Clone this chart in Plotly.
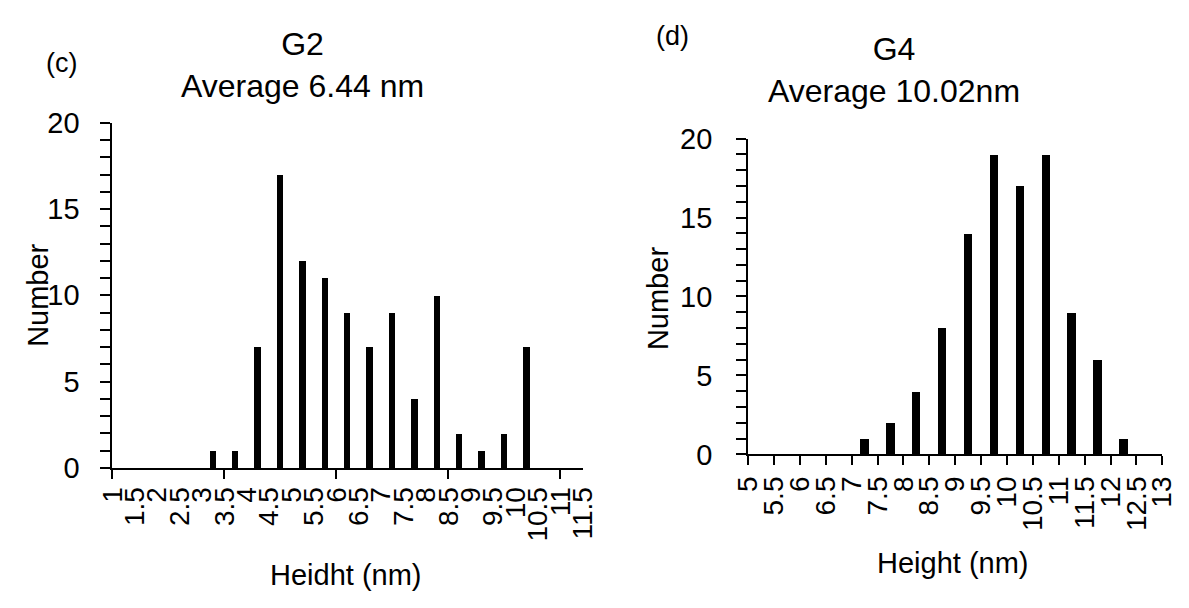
import numpy as np
import plotly.graph_objects as go

# ---- data ----
g2_edges = ["1", "1.5", "2", "2.5", "3", "3.5", "4", "4.5", "5", "5.5", "6",
            "6.5", "7", "7.5", "8", "8.5", "9", "9.5", "10", "10.5", "11", "11.5"]
g2_counts = [0, 0, 0, 0, 1, 1, 7, 17, 12, 11, 9, 7, 9, 4, 10, 2, 1, 2, 7, 0, 0]

g4_edges = ["5", "5.5", "6", "6.5", "7", "7.5", "8", "8.5", "9", "9.5", "10",
            "10.5", "11", "11.5", "12", "12.5", "13"]
g4_counts = [0, 0, 0, 0, 1, 2, 4, 8, 14, 19, 17, 19, 9, 6, 1, 0]

y_ticks = [0, 5, 10, 15, 20]
g2_major_ticks = [0, 5, 10, 15, 20]

FONT = "Arial, Liberation Sans, sans-serif"
W, H = 1189, 608

g2_x = np.arange(len(g2_counts)) + 0.5
g4_x = np.arange(len(g4_counts)) + 0.5

fig = go.Figure()
fig.add_trace(go.Bar(x=g2_x, y=g2_counts, width=0.29, marker=dict(color="black", line=dict(width=0)),
                     xaxis="x", yaxis="y", showlegend=False))
fig.add_trace(go.Bar(x=g4_x, y=g4_counts, width=0.32, marker=dict(color="black", line=dict(width=0)),
                     xaxis="x2", yaxis="y2", showlegend=False))
# invisible helper trace so the tick-mark overlay axis is drawn
fig.add_trace(go.Scatter(x=[0], y=[0], mode="markers", marker=dict(opacity=0), xaxis="x3", yaxis="y",
                         showlegend=False, hoverinfo="skip"))

def px_x(p):
    return p / W

def px_y(p):
    return 1 - p / H

axis_common = dict(showgrid=False, zeroline=False, showline=True, linecolor="black", linewidth=2,
                   tickcolor="black", tickwidth=2)

fig.update_layout(
    width=W, height=H, margin=dict(l=0, r=0, t=0, b=0),
    paper_bgcolor="white", plot_bgcolor="white",
    font=dict(family=FONT, color="black"),
    bargap=0,
    xaxis=dict(**axis_common, domain=[px_x(99), px_x(582)], range=[0, len(g2_counts)], anchor="y",
               tickmode="array", tickvals=list(range(len(g2_edges))), ticktext=g2_edges,
               tickangle=-90, ticks="", ticklabelstandoff=6, tickfont=dict(size=28)),
    xaxis3=dict(showgrid=False, zeroline=False, showline=False, overlaying="x", anchor="y",
                range=[0, len(g2_counts)], tickmode="array", tickvals=g2_major_ticks,
                ticks="outside", ticklen=10, tickwidth=2, tickcolor="black", showticklabels=False),
    yaxis=dict(**axis_common, domain=[px_y(477), px_y(112.7)], range=[0, 20], anchor="x",
               tickmode="array", tickvals=y_ticks, ticks="outside", ticklen=10,
               minor=dict(dtick=1, ticks="outside", ticklen=10, tickwidth=2, tickcolor="black"),
               ticklabelstandoff=15, tickfont=dict(size=29)),
    xaxis2=dict(**axis_common, domain=[px_x(751.7), px_x(1177)], range=[0, len(g4_counts)], anchor="y2",
                tickmode="array", tickvals=list(range(len(g4_edges))), ticktext=g4_edges,
                tickangle=-90, ticks="outside", ticklen=9, ticklabelstandoff=0, tickfont=dict(size=28)),
    yaxis2=dict(**axis_common, domain=[px_y(462.7), px_y(129.4)], range=[0, 20], anchor="x2",
                tickmode="array", tickvals=y_ticks, ticks="outside", ticklen=10,
                minor=dict(dtick=1, ticks="outside", ticklen=10, tickwidth=2, tickcolor="black"),
                ticklabelstandoff=18, tickfont=dict(size=29)),
)

def ann(text, x, y, size, angle=0):
    fig.add_annotation(text=text, x=px_x(x), y=px_y(y), xref="paper", yref="paper",
                       xanchor="center", yanchor="middle", showarrow=False, textangle=angle,
                       font=dict(family=FONT, size=size, color="black"))

ann("G2<br>Average 6.44 nm", 294, 52, 32)
ann("G4<br>Average 10.02nm", 902, 57, 32)
ann("(c)", 47, 50, 27)
ann("(d)", 674, 21, 27)
ann("Number", 23, 295, 29, angle=-90)
ann("Number", 660, 298, 29, angle=-90)
ann("Heidht (nm)", 339, 590, 29)
ann("Height (nm)", 962, 577, 29)

fig.write_html("out.html")
